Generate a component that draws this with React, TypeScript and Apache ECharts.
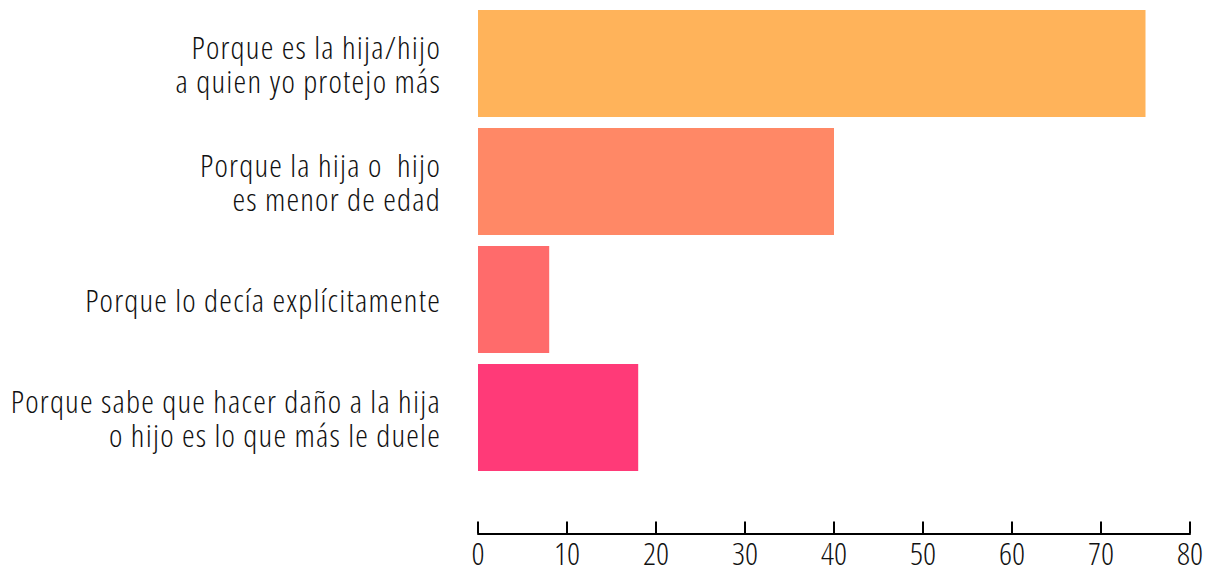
import React, { useEffect, useRef } from "react";
import * as echarts from "echarts";

const categories = [
  "Porque es la hija/hijo\na quien yo protejo más",
  "Porque la hija o  hijo\nes menor de edad",
  "Porque lo decía explícitamente",
  "Porque sabe que hacer daño a la hija\no hijo es lo que más le duele",
];
const values = [75, 40, 8, 18];
const barColors = ["#FFB35A", "#FF8866", "#FF6B6B", "#FF3A78"];
const FONT_Y = "'Open Sans'; font-stretch: 75%; font-weight: 300; letter-spacing: 1.2px";
const FONT_X = "'Open Sans'; font-stretch: 75%; font-weight: 300";

export default function App() {
  const ref = useRef<HTMLDivElement>(null);
  useEffect(() => {
    if (!ref.current) return;
    const chart = echarts.init(ref.current, undefined, { renderer: "svg" });
    chart.setOption({
      animation: false,
      grid: { left: 478, right: 23, top: 4.5, bottom: 98.5, containLabel: false, outerBoundsMode: "none" },
      xAxis: {
        type: "value",
        min: 0,
        max: 80,
        interval: 10,
        offset: 57,
        axisLine: { show: true, lineStyle: { color: "#000", width: 2 } },
        axisTick: { show: true, inside: true, length: 12, lineStyle: { color: "#000", width: 2 } },
        splitLine: { show: false },
        axisLabel: { fontSize: 32, color: "#111", fontFamily: FONT_X, margin: 14 },
      },
      yAxis: {
        type: "category",
        inverse: true,
        data: categories,
        axisLine: { show: false },
        axisTick: { show: false },
        axisLabel: {
          fontSize: 32,
          lineHeight: 34,
          color: "#111",
          fontFamily: FONT_Y,
          margin: 37,
          align: "right",
          padding: [0, 0, 8, 0],
        },
      },
      series: [
        {
          type: "bar",
          barCategoryGap: "9.3%",
          data: values.map((v, i) => ({ value: v, itemStyle: { color: barColors[i] } })),
        },
      ],
    });
    return () => chart.dispose();
  }, []);
  return <div ref={ref} style={{ width: 1213, height: 575, margin: -8 }} />;
}
